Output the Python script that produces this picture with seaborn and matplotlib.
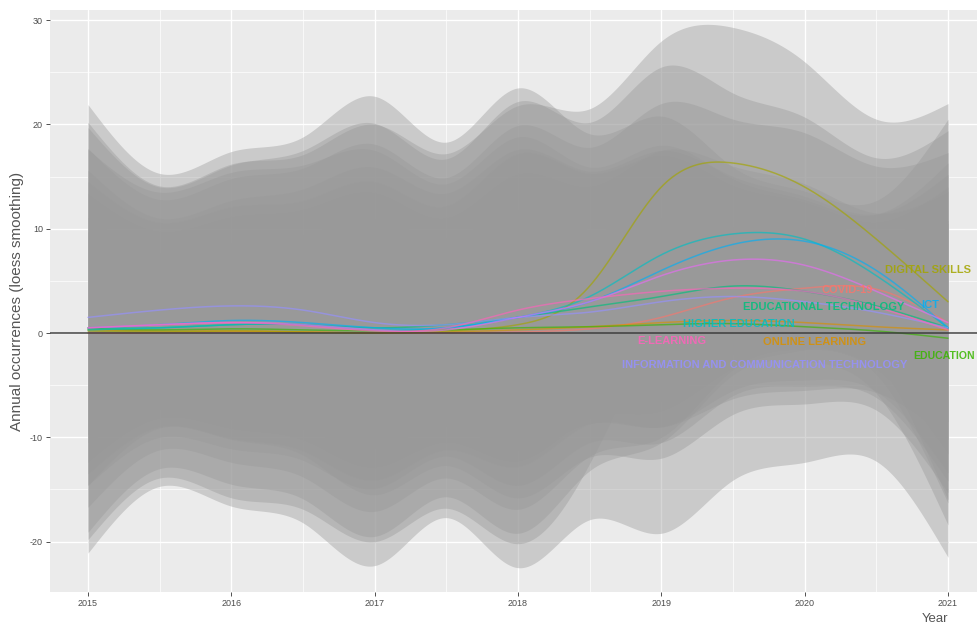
import numpy as np
import pandas as pd
import matplotlib
matplotlib.use("Agg")
import matplotlib.pyplot as plt
from matplotlib.ticker import MultipleLocator
import seaborn as sns

# Half-year knots at which the smoothed fits and their standard-error widths are given
knots = [2015, 2015.5, 2016, 2016.5, 2017, 2017.5, 2018, 2018.5, 2019, 2019.5, 2020, 2020.5, 2021]

keywords = ["COVID-19", "ONLINE LEARNING", "DIGITAL SKILLS", "EDUCATION",
            "EDUCATIONAL TECHNOLOGY", "HIGHER EDUCATION", "ICT",
            "INFORMATION AND COMMUNICATION TECHNOLOGY", "TEACHING", "E-LEARNING"]
colors = ["#F8766D", "#D89000", "#A3A500", "#39B600", "#00BF7D",
          "#00BFC4", "#00B0F6", "#9590FF", "#E76BF3", "#FF62BC"]

# Loess fits (annual occurrences)
fit_covid = [0.0, 0.0, 0.1, 0.1, 0.0, 0.0, 0.1, 0.4, 1.5, 3.4, 4.3, 4.2, 1.0]
fit_online = [0.3, 0.2, 0.2, 0.1, 0.0, 0.1, 0.3, 0.6, 1.0, 1.2, 1.0, 0.6, 0.3]
fit_digital = [0.2, 0.1, 0.2, 0.1, 0.0, 0.2, 0.8, 4.5, 14.0, 16.3, 14.0, 9.0, 3.0]
fit_education = [0.4, 0.3, 0.4, 0.3, 0.2, 0.3, 0.5, 0.6, 0.8, 0.9, 0.6, 0.2, -0.5]
fit_edtech = [0.5, 0.5, 0.8, 0.8, 0.5, 0.8, 1.5, 2.5, 3.5, 4.5, 4.0, 2.6, 0.5]
fit_higher = [0.3, 0.5, 0.8, 0.8, 0.3, 0.5, 1.5, 3.5, 7.5, 9.5, 9.0, 5.5, 0.5]
fit_ict = [0.5, 0.8, 1.2, 1.0, 0.5, 0.5, 1.5, 3.0, 6.0, 8.5, 8.8, 6.0, 0.5]
fit_infocomm = [1.5, 2.2, 2.6, 2.2, 1.0, 0.8, 1.5, 2.0, 3.0, 3.5, 3.0, 2.0, 0.5]
fit_teaching = [0.5, 0.8, 1.0, 0.8, 0.3, 0.3, 1.5, 3.0, 5.5, 7.0, 6.5, 4.0, 1.0]
fit_elearning = [0.5, 0.8, 1.0, 0.7, 0.2, 0.5, 2.2, 3.3, 4.0, 4.3, 4.0, 2.5, 0.3]

# Half-widths of the confidence bands
se_covid = [9.7, 6.8, 7.7, 8.3, 9.9, 8.1, 10.4, 8.3, 9.0, 6.8, 5.9, 5.6, 9.5]
se_online = [10.8, 7.5, 8.5, 9.3, 11.0, 9.0, 11.5, 9.3, 10.0, 7.5, 6.5, 6.3, 10.5]
se_digital = [20.0, 14.0, 16.0, 17.0, 20.0, 17.0, 21.0, 17.0, 14.0, 13.0, 12.0, 11.5, 19.0]
se_education = [21.5, 15.0, 17.0, 18.5, 22.5, 18.0, 23.0, 18.5, 20.0, 15.0, 13.0, 12.5, 21.0]
se_edtech = [15.1, 10.5, 11.9, 13.0, 15.4, 12.6, 16.1, 13.0, 14.0, 10.5, 9.1, 8.8, 14.7]
se_higher = [19.4, 13.5, 15.3, 16.7, 19.8, 16.2, 20.7, 16.7, 18.0, 13.5, 11.7, 11.3, 18.9]
se_ict = [17.2, 12.0, 13.6, 14.8, 17.6, 14.4, 18.4, 14.8, 16.0, 12.0, 10.4, 10.0, 16.8]
se_infocomm = [16.1, 11.3, 12.8, 13.9, 16.5, 13.5, 17.3, 13.9, 15.0, 11.3, 9.8, 9.4, 15.8]
se_teaching = [12.9, 9.0, 10.2, 11.1, 13.2, 10.8, 13.8, 11.1, 12.0, 9.0, 7.8, 7.5, 12.6]
se_elearning = [14.0, 9.8, 11.1, 12.0, 14.3, 11.7, 15.0, 12.0, 13.0, 9.8, 8.5, 8.1, 13.7]

fits = [fit_covid, fit_online, fit_digital, fit_education, fit_edtech,
        fit_higher, fit_ict, fit_infocomm, fit_teaching, fit_elearning]
ses = [se_covid, se_online, se_digital, se_education, se_edtech,
       se_higher, se_ict, se_infocomm, se_teaching, se_elearning]

# Direct labels: keyword, x, y, horizontal alignment
label_kw = ["COVID-19", "ONLINE LEARNING", "DIGITAL SKILLS", "EDUCATION",
            "EDUCATIONAL TECHNOLOGY", "HIGHER EDUCATION", "ICT",
            "INFORMATION AND COMMUNICATION TECHNOLOGY", "E-LEARNING"]
label_x = [2020.30, 2020.07, 2020.56, 2020.76, 2020.13, 2019.54, 2020.81, 2019.72, 2019.07]
label_y = [4.1, -0.9, 6.0, -2.2, 2.5, 0.9, 2.7, -3.1, -0.8]
label_ha = ["center", "center", "left", "left", "center", "center", "left", "center", "center"]
label_size = [8.0, 8.0, 8.0, 7.6, 8.0, 8.0, 8.0, 8.0, 8.0]


def natural_spline(xk, yk, xs):
    """Smooth C2 curve through the knot values (natural cubic spline)."""
    xk = np.asarray(xk, float)
    yk = np.asarray(yk, float)
    n = len(xk)
    h = np.diff(xk)
    A = np.zeros((n, n))
    r = np.zeros(n)
    A[0, 0] = A[-1, -1] = 1.0
    for i in range(1, n - 1):
        A[i, i - 1] = h[i - 1]
        A[i, i] = 2 * (h[i - 1] + h[i])
        A[i, i + 1] = h[i]
        r[i] = 3 * ((yk[i + 1] - yk[i]) / h[i] - (yk[i] - yk[i - 1]) / h[i - 1])
    c = np.linalg.solve(A, r)
    b = np.diff(yk) / h - h * (2 * c[:-1] + c[1:]) / 3
    d = (c[1:] - c[:-1]) / (3 * h)
    idx = np.clip(np.searchsorted(xk, xs) - 1, 0, n - 2)
    dx = xs - xk[idx]
    return yk[idx] + b[idx] * dx + c[idx] * dx ** 2 + d[idx] * dx ** 3


xs = np.linspace(knots[0], knots[-1], 400)
rows = []
bands = []
for kw, f, s in zip(keywords, fits, ses):
    yf = natural_spline(knots, f, xs)
    ys = natural_spline(knots, s, xs)
    bands.append((yf - ys, yf + ys))
    rows.append(pd.DataFrame({"Year": xs, "value": yf, "keyword": kw}))
curves = pd.concat(rows, ignore_index=True)

sns.set_theme(style="darkgrid", rc={
    "axes.facecolor": "#EBEBEB",
    "grid.color": "white",
    "axes.edgecolor": "#EBEBEB",
})
plt.rcParams["font.family"] = ["Liberation Sans", "DejaVu Sans"]

fig = plt.figure(figsize=(9.77, 6.26), dpi=100)
# The panel runs on past the right edge of the figure
ax = fig.add_axes([50 / 977, 1 - 592 / 626, 941 / 977, (592 - 10) / 626])

# Confidence ribbons
for lo, hi in bands:
    ax.fill_between(xs, lo, hi, color="#999999", alpha=0.4, linewidth=0, zorder=2)

sns.lineplot(data=curves, x="Year", y="value", hue="keyword", hue_order=keywords,
             palette=colors, linewidth=1.1, alpha=0.65, legend=False, ax=ax,
             zorder=3)

ax.axhline(0, color="#3a3a3a", linewidth=1.4, alpha=0.75, zorder=4)

for kw, lx, ly, ha, fs in zip(label_kw, label_x, label_y, label_ha, label_size):
    ax.text(lx, ly, kw, color=colors[keywords.index(kw)], fontsize=fs,
            fontweight="bold", ha=ha, va="center", zorder=5, alpha=0.85)

ax.set_xlim(2014.735, 2021.3)
ax.set_ylim(-24.83, 30.97)
ax.xaxis.set_major_locator(MultipleLocator(1))
ax.xaxis.set_minor_locator(MultipleLocator(0.5))
ax.yaxis.set_major_locator(MultipleLocator(10))
ax.yaxis.set_minor_locator(MultipleLocator(5))
ax.xaxis.set_major_formatter(plt.FuncFormatter(lambda v, p: f"{int(round(v))}"))
ax.yaxis.set_major_formatter(plt.FuncFormatter(lambda v, p: f"{int(round(v))}"))
ax.grid(which="major", color="white", linewidth=1.0, zorder=0)
ax.grid(which="minor", color="white", linewidth=0.5, zorder=0)
ax.set_axisbelow(True)
ax.tick_params(axis="both", which="major", labelsize=6.5, labelcolor="#4D4D4D",
               length=3, width=0.6, color="#333333", direction="out", pad=2)
ax.tick_params(which="minor", length=0)
ax.tick_params(axis="x", bottom=True)
ax.tick_params(axis="y", left=True)
for sp in ax.spines.values():
    sp.set_visible(False)

ax.set_xlabel("")
ax.set_ylabel("Annual occurrences (loess smoothing)", fontsize=11, color="#555555")
ax.yaxis.set_label_coords(-(50 - 24) / 941, 0.5)
fig.text(935 / 977, 1 - 619 / 626, "Year", fontsize=9.5, color="#555555",
         ha="center", va="center")

fig.savefig("out.png", dpi=100)
